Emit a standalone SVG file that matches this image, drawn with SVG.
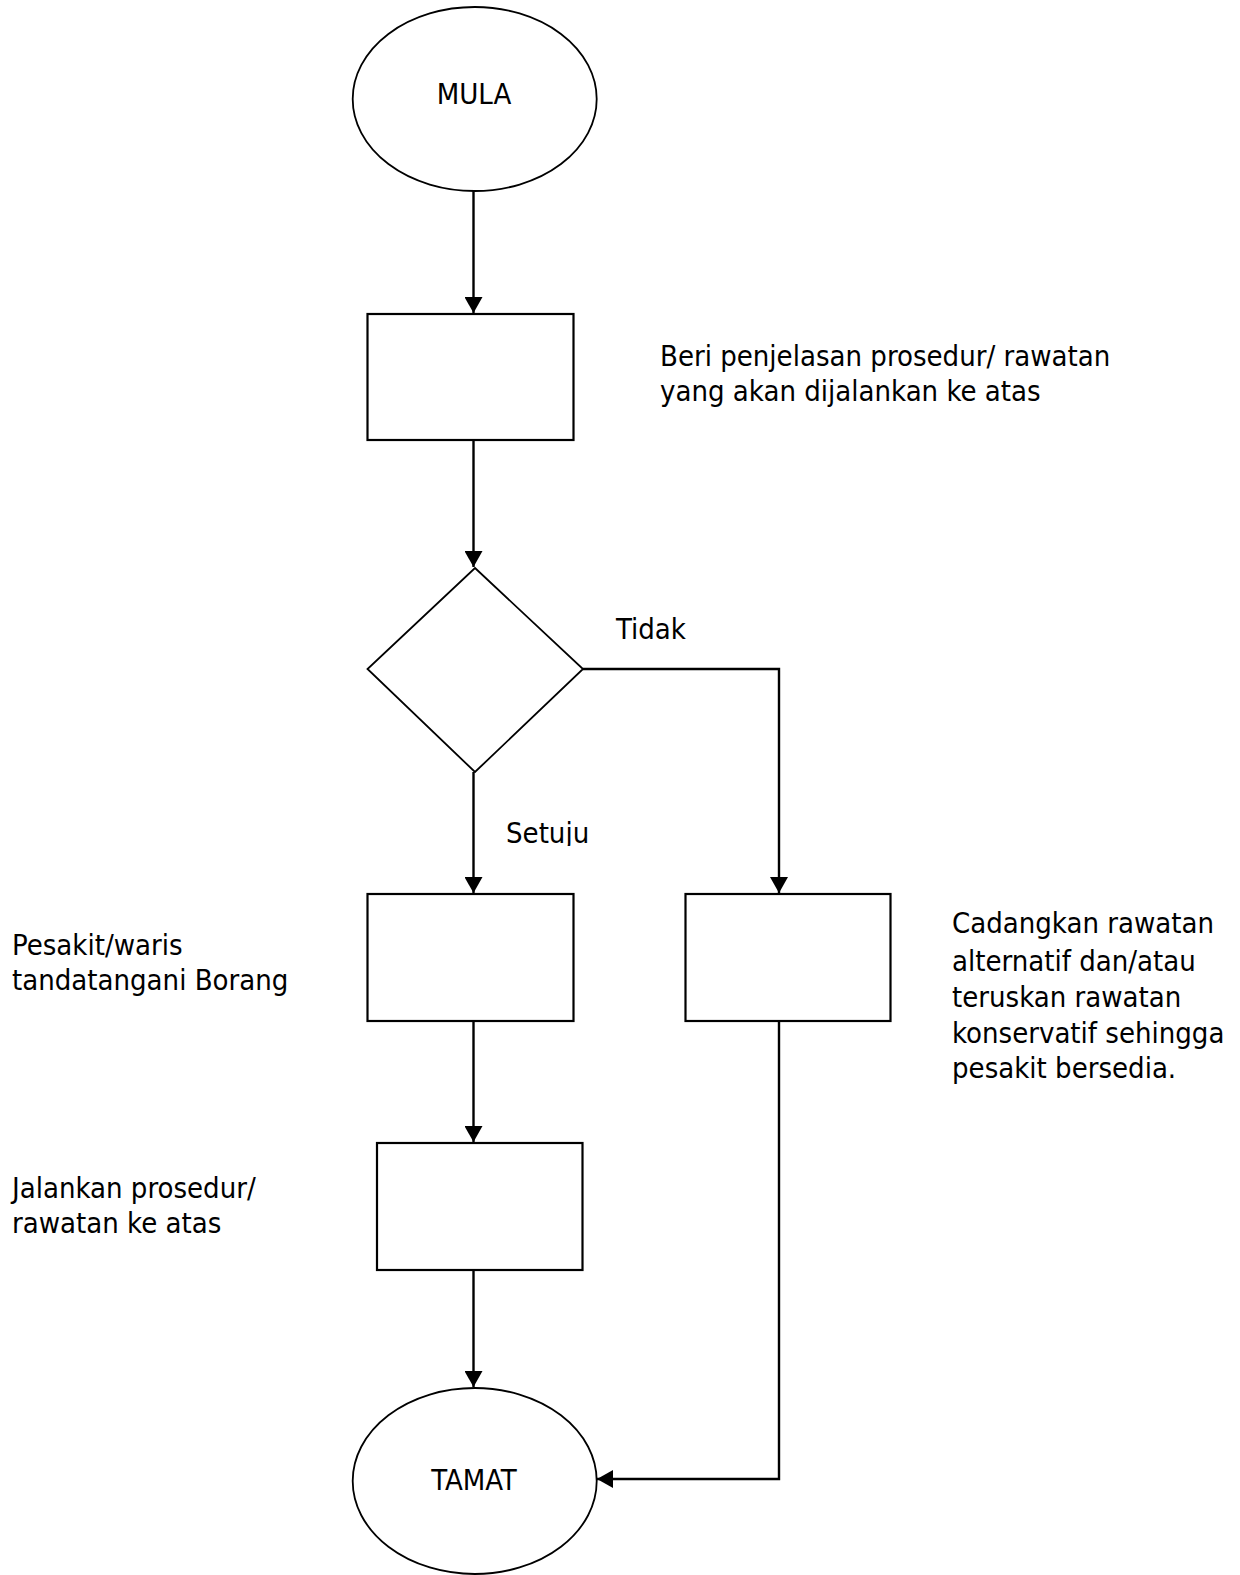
<svg xmlns="http://www.w3.org/2000/svg" width="1240" height="1575" viewBox="0 0 1240 1575">
  <style>
    .shape { fill: #ffffff; stroke: #000000; }
    .box { stroke-width: 2.2; }
    .thin { stroke-width: 1.8; }
    .edge { fill: none; stroke: #000000; stroke-width: 2.4; }
    .lbl { font-family: "DejaVu Sans Condensed", "DejaVu Sans", sans-serif; font-stretch: condensed; font-size: 29px; fill: #000000; }
    .mid { text-anchor: middle; }
  </style>
  <defs>
    <marker id="arrow" markerUnits="userSpaceOnUse" markerWidth="18" markerHeight="18" viewBox="0 0 16 18" refX="16" refY="9" orient="auto">
      <path d="M0,0 L16,9 L0,18 Z" fill="#000000"/>
    </marker>
    <clipPath id="clipSetuju">
      <rect x="490" y="800" width="140" height="46"/>
    </clipPath>
  </defs>

  <!-- connectors -->
  <g id="connectors">
    <path class="edge" d="M473.5,191 L473.5,313" marker-end="url(#arrow)"/>
    <path class="edge" d="M473.5,440 L473.5,567" marker-end="url(#arrow)"/>
    <path class="edge" d="M473.5,772 L473.5,893" marker-end="url(#arrow)"/>
    <path class="edge" d="M583,669 L779,669 L779,893" marker-end="url(#arrow)"/>
    <path class="edge" d="M473.5,1021 L473.5,1142" marker-end="url(#arrow)"/>
    <path class="edge" d="M473.5,1270 L473.5,1387" marker-end="url(#arrow)"/>
    <path class="edge" d="M779,1021 L779,1479 L597,1479" marker-end="url(#arrow)"/>
  </g>

  <!-- start -->
  <g id="mula">
    <ellipse class="shape thin" cx="474.7" cy="99" rx="122" ry="92"/>
    <text class="lbl mid" x="474" y="104">MULA</text>
  </g>

  <!-- explanation step -->
  <g id="beri-penjelasan">
    <rect class="shape box" x="367.5" y="314" width="206" height="126"/>
  </g>
  <g id="label-beri">
    <text class="lbl" x="660" y="366">Beri penjelasan prosedur/ rawatan</text>
    <text class="lbl" x="660" y="401">yang akan dijalankan ke atas</text>
  </g>

  <!-- decision -->
  <g id="keputusan">
    <polygon class="shape thin" points="475,568 583,669 475,772 367.5,669"/>
  </g>
  <g id="label-tidak">
    <text class="lbl" x="616" y="639">Tidak</text>
  </g>
  <g id="label-setuju">
    <text class="lbl" x="506" y="843" clip-path="url(#clipSetuju)">Setuju</text>
  </g>

  <!-- consent signing -->
  <g id="tandatangan">
    <rect class="shape box" x="367.5" y="894" width="206" height="127"/>
  </g>
  <g id="label-pesakit">
    <text class="lbl" x="12" y="955">Pesakit/waris</text>
    <text class="lbl" x="12" y="990">tandatangani Borang</text>
  </g>

  <!-- alternative treatment -->
  <g id="alternatif">
    <rect class="shape box" x="685.5" y="894" width="205" height="127"/>
  </g>
  <g id="label-cadangkan">
    <text class="lbl" x="952" y="933">Cadangkan rawatan</text>
    <text class="lbl" x="952" y="971">alternatif dan/atau</text>
    <text class="lbl" x="952" y="1007">teruskan rawatan</text>
    <text class="lbl" x="952" y="1043">konservatif sehingga</text>
    <text class="lbl" x="952" y="1078">pesakit bersedia.</text>
  </g>

  <!-- carry out procedure -->
  <g id="jalankan">
    <rect class="shape box" x="377" y="1143" width="205.5" height="127"/>
  </g>
  <g id="label-jalankan">
    <text class="lbl" x="12" y="1198">Jalankan prosedur/</text>
    <text class="lbl" x="12" y="1233">rawatan ke atas</text>
  </g>

  <!-- end -->
  <g id="tamat">
    <ellipse class="shape thin" cx="474.7" cy="1481" rx="122" ry="93"/>
    <text class="lbl mid" x="474" y="1490">TAMAT</text>
  </g>
</svg>
